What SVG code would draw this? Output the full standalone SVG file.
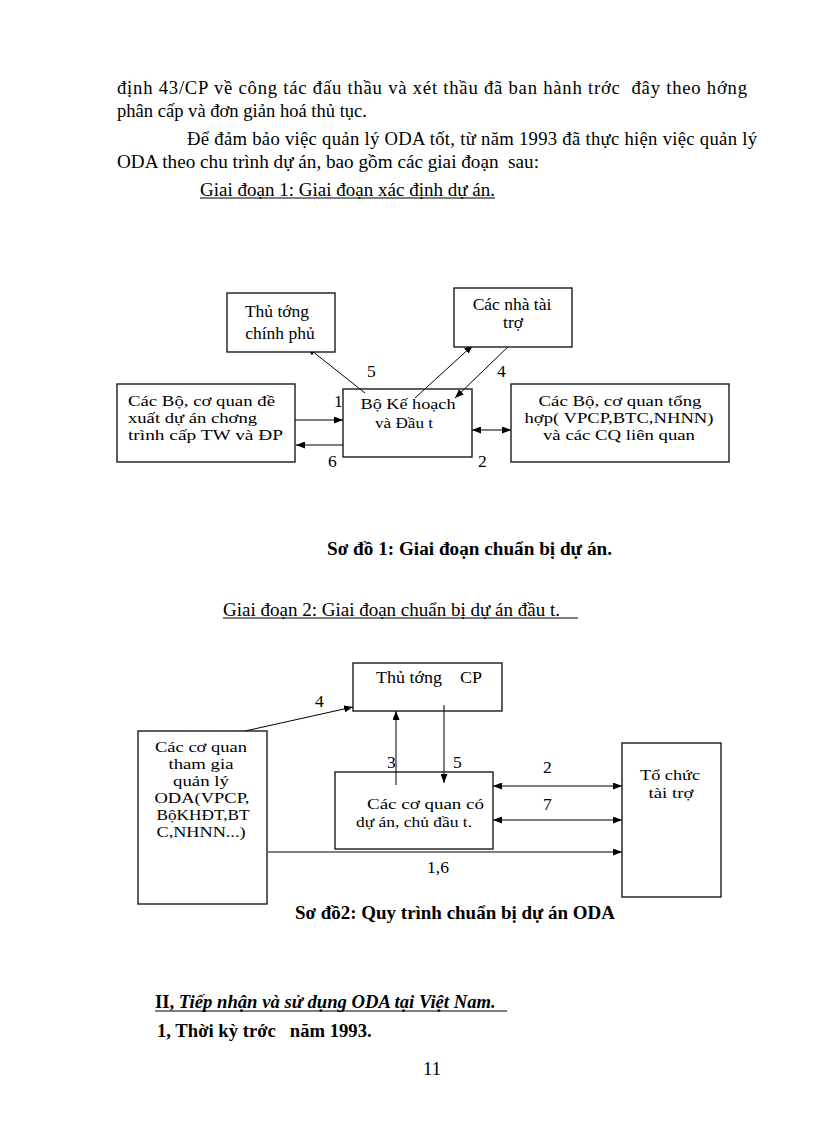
<svg xmlns="http://www.w3.org/2000/svg" width="816" height="1123" viewBox="0 0 816 1123">
<defs>
<marker id="ah" markerWidth="9" markerHeight="7" refX="9" refY="3.5" orient="auto-start-reverse" markerUnits="userSpaceOnUse"><path d="M0,0 L9,3.5 L0,7 z" fill="#000"/></marker>
</defs>
<style>
text{font-family:"Liberation Serif","Times New Roman",serif;fill:#000}
.b{font-size:18.67px}
.bd{font-weight:bold}
.d{font-size:17.5px}
.s{font-size:15.5px}
.m{text-anchor:middle}
.box{fill:#fff;stroke:#1a1a1a;stroke-width:1.4}
.c{stroke:#000;stroke-width:1;fill:none}
.ul{stroke:#000;stroke-width:1}
</style>
<rect width="816" height="1123" fill="#fff"/>

<g id="body-text">
<text class="b" x="117" y="94" textLength="630" lengthAdjust="spacing" xml:space="preserve">định 43/CP về công tác đấu thầu và xét thầu đã ban hành trớc  đây theo hớng</text>
<text class="b" x="117" y="117" textLength="250" lengthAdjust="spacingAndGlyphs">phân cấp và đơn giản hoá thủ tục.</text>
<text class="b" x="187" y="145" textLength="570" lengthAdjust="spacing">Để đảm bảo việc quản lý ODA tốt, từ năm 1993 đã thực hiện việc quản lý</text>
<text class="b" x="117" y="168" textLength="422" lengthAdjust="spacingAndGlyphs" xml:space="preserve">ODA theo chu trình dự án, bao gồm các giai đoạn  sau:</text>
<text class="b" x="200" y="196" textLength="295" lengthAdjust="spacingAndGlyphs">Giai đoạn 1: Giai đoạn xác định dự án.</text>
<line class="ul" x1="200" y1="198" x2="495" y2="198"/>
</g>

<g id="d1-connectors">
<line class="c" x1="295" y1="420" x2="343" y2="420" marker-end="url(#ah)"/>
<line class="c" x1="343" y1="445" x2="296" y2="445" marker-end="url(#ah)"/>
<line class="c" x1="472" y1="430" x2="511" y2="430" marker-start="url(#ah)" marker-end="url(#ah)"/>
<line class="c" x1="365" y1="393" x2="307" y2="347" marker-end="url(#ah)"/>
<line class="c" x1="415" y1="398" x2="473" y2="345" marker-end="url(#ah)"/>
<line class="c" x1="513" y1="342" x2="455" y2="398" marker-end="url(#ah)"/>
<text class="d" x="334" y="407">1</text>
<text class="d" x="328" y="467">6</text>
<text class="d" x="478" y="467">2</text>
<text class="d" x="367" y="377">5</text>
<text class="d" x="497" y="377">4</text>
</g>

<g id="d1-thu-tuong">
<rect class="box" x="227" y="293" width="108" height="59"/>
<text class="d m" x="277" y="317">Thủ tớng</text>
<text class="d m" x="280" y="339">chính phủ</text>
</g>
<g id="d1-nha-tai-tro">
<rect class="box" x="454" y="288" width="118" height="59"/>
<text class="d m" x="512" y="310">Các nhà tài</text>
<text class="d m" x="513" y="328">trợ</text>
</g>
<g id="d1-bo-kh">
<rect class="box" x="343" y="389" width="129" height="68" fill-opacity="0"/>
<text class="s m" x="408" y="409" textLength="95" lengthAdjust="spacingAndGlyphs">Bộ Kế hoạch</text>
<text class="s m" x="404" y="428" textLength="58" lengthAdjust="spacingAndGlyphs">và Đầu t</text>
</g>
<g id="d1-left">
<rect class="box" x="117" y="384" width="178" height="78"/>
<text class="s" x="128" y="406" textLength="147" lengthAdjust="spacingAndGlyphs">Các Bộ, cơ quan đề</text>
<text class="s" x="128" y="423" textLength="129" lengthAdjust="spacingAndGlyphs">xuất dự án chơng</text>
<text class="s" x="128" y="440" textLength="155" lengthAdjust="spacingAndGlyphs">trình cấp TW và ĐP</text>
</g>
<g id="d1-right">
<rect class="box" x="511" y="384" width="218" height="78"/>
<text class="s m" x="620" y="406" textLength="163" lengthAdjust="spacingAndGlyphs">Các Bộ, cơ quan tổng</text>
<text class="s m" x="619" y="423" textLength="189" lengthAdjust="spacingAndGlyphs">hợp( VPCP,BTC,NHNN)</text>
<text class="s m" x="619" y="440" textLength="152" lengthAdjust="spacingAndGlyphs">và các CQ liên quan</text>
</g>

<g id="captions">
<text class="b bd" x="327" y="555" textLength="285" lengthAdjust="spacingAndGlyphs">Sơ đồ 1: Giai đoạn chuẩn bị dự án.</text>
<text class="b" x="223" y="616" textLength="337" lengthAdjust="spacingAndGlyphs">Giai đoạn 2: Giai đoạn chuẩn bị dự án đầu t.</text>
<line class="ul" x1="223" y1="618" x2="578" y2="618"/>
<text class="b bd" x="295" y="919" textLength="320" lengthAdjust="spacingAndGlyphs">Sơ đồ2: Quy trình chuẩn bị dự án ODA</text>
</g>

<g id="d2-connectors">
<line class="c" x1="245" y1="731" x2="353" y2="707" marker-end="url(#ah)"/>
<line class="c" x1="396" y1="785" x2="396" y2="711" marker-end="url(#ah)"/>
<line class="c" x1="444" y1="705" x2="444" y2="783" marker-end="url(#ah)"/>
<line class="c" x1="493" y1="786" x2="622" y2="786" marker-start="url(#ah)" marker-end="url(#ah)"/>
<line class="c" x1="493" y1="820" x2="622" y2="820" marker-start="url(#ah)" marker-end="url(#ah)"/>
<line class="c" x1="268" y1="852" x2="622" y2="852" marker-end="url(#ah)"/>
<text class="d" x="315" y="707">4</text>
<text class="d" x="387" y="768">3</text>
<text class="d" x="453" y="768">5</text>
<text class="d" x="543" y="773">2</text>
<text class="d" x="543" y="810">7</text>
<text class="d" x="427" y="873">1,6</text>
</g>

<g id="d2-thu-tuong">
<rect class="box" x="353" y="663" width="149" height="48" fill-opacity="0"/>
<text class="d m" x="429" y="683" xml:space="preserve" textLength="106" lengthAdjust="spacingAndGlyphs">Thủ tớng    CP</text>
</g>
<g id="d2-co-quan-tham-gia">
<rect class="box" x="138" y="731" width="129" height="173" fill-opacity="0"/>
<text class="s m" x="201" y="752" textLength="92" lengthAdjust="spacingAndGlyphs">Các cơ quan</text>
<text class="s m" x="201" y="769" textLength="65" lengthAdjust="spacingAndGlyphs">tham gia</text>
<text class="s m" x="201" y="786" textLength="56" lengthAdjust="spacingAndGlyphs">quản lý</text>
<text class="s m" x="202" y="803" textLength="95" lengthAdjust="spacingAndGlyphs">ODA(VPCP,</text>
<text class="s m" x="203" y="820" textLength="93" lengthAdjust="spacingAndGlyphs">BộKHĐT,BT</text>
<text class="s m" x="201" y="837" textLength="89" lengthAdjust="spacingAndGlyphs">C,NHNN...)</text>
</g>
<g id="d2-co-quan-du-an">
<rect class="box" x="335" y="772" width="158" height="77" fill-opacity="0"/>
<text class="s" x="367" y="809" textLength="117" lengthAdjust="spacingAndGlyphs">Các cơ quan có</text>
<text class="s" x="356" y="827" textLength="116" lengthAdjust="spacingAndGlyphs">dự án, chủ đầu t.</text>
</g>
<g id="d2-to-chuc-tai-tro">
<rect class="box" x="622" y="743" width="99" height="154"/>
<text class="s m" x="670" y="780" textLength="60" lengthAdjust="spacingAndGlyphs">Tổ chức</text>
<text class="s m" x="671" y="798" textLength="45" lengthAdjust="spacingAndGlyphs">tài trợ</text>
</g>

<g id="section-text">
<text class="b bd" x="155" y="1008">II, <tspan font-style="italic">Tiếp nhận và sử dụng ODA  tại Việt Nam.</tspan></text>
<line class="ul" x1="155" y1="1011" x2="507" y2="1011"/>
<text class="b bd" x="157" y="1037" xml:space="preserve">1, Thời kỳ trớc   năm 1993.</text>
<text class="b" x="423" y="1075">11</text>
</g>
</svg>
